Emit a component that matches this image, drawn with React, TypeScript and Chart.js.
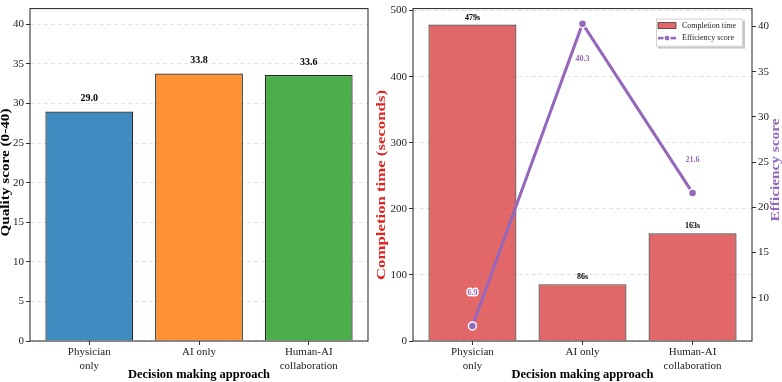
import React, { useEffect, useRef } from 'react';
import { Chart, registerables } from 'chart.js';

Chart.register(...registerables);

// ---------- data ----------
const categories: string[][] = [['Physician', 'only'], ['AI only'], ['Human-AI', 'collaboration']];
const qualityScores = [29.0, 33.8, 33.6];
const completionTimes = [479, 86, 163];
const efficiencyScores = [6.9, 40.3, 21.6];
const qualityTicks = [0, 5, 10, 15, 20, 25, 30, 35, 40];
const timeTicks = [0, 100, 200, 300, 400, 500];
const efficiencyTicks = [10, 15, 20, 25, 30, 35, 40];

const FONT = '"Liberation Serif", "Times New Roman", serif';
const PURPLE = '#9467bd';
const RED_TEXT = '#e3221f';
const qualityColors = ['rgba(31,119,180,0.85)', 'rgba(255,127,14,0.85)', 'rgba(44,160,44,0.85)'];
const timeColor = 'rgba(214,39,40,0.7)';

function drawVText(ctx: CanvasRenderingContext2D, text: string, x: number, y: number, length: number, size: number, color: string) {
  ctx.save();
  ctx.translate(x, y);
  ctx.rotate(-Math.PI / 2);
  ctx.font = `bold ${size}px ${FONT}`;
  const w = ctx.measureText(text).width;
  ctx.scale(length / w, 1);
  ctx.textAlign = 'center';
  ctx.textBaseline = 'middle';
  ctx.fillStyle = color;
  ctx.fillText(text, 0, 0);
  ctx.restore();
}

const framePlugin = {
  id: 'frame',
  afterDatasetsDraw(chart: any) {
    const { ctx, chartArea: ca } = chart;
    ctx.save();
    ctx.strokeStyle = '#222';
    ctx.lineWidth = 1;
    ctx.strokeRect(ca.left, ca.top, ca.right - ca.left, ca.bottom - ca.top);
    ctx.restore();
  },
};

function xScale(): any {
  return {
    type: 'linear',
    min: -0.54,
    max: 2.54,
    offset: false,
    afterBuildTicks: (s: any) => {
      s.ticks = categories.map((_, i) => ({ value: i }));
    },
    afterFit: (s: any) => {
      s.height = 41;
    },
    ticks: {
      callback: (v: any) => categories[Math.round(v)],
      font: { family: FONT, size: 11, lineHeight: 1.2 },
      color: '#222',
      padding: 1,
      maxRotation: 0,
      autoSkip: false,
    },
    grid: { offset: false, drawOnChartArea: false, tickLength: 4, tickColor: '#333', tickWidth: 1 },
    border: { display: false },
    title: {
      display: true,
      text: 'Decision making approach',
      font: { family: FONT, size: 12.5, weight: 'bold', lineHeight: 1.2 },
      color: '#000',
      padding: { top: 0, bottom: 0 },
    },
  };
}

function yGrid(drawArea: boolean) {
  return {
    drawOnChartArea: drawArea,
    color: 'rgba(0,0,0,0.14)',
    lineWidth: 0.8,
    tickLength: 4,
    tickColor: '#333',
    tickWidth: 1,
  };
}

function LeftChart() {
  const ref = useRef<HTMLCanvasElement>(null);
  useEffect(() => {
    const labelPlugin = {
      id: 'qlabels',
      afterDatasetsDraw(chart: any) {
        const { ctx } = chart;
        const meta = chart.getDatasetMeta(0);
        ctx.save();
        ctx.font = `bold 10px ${FONT}`;
        ctx.fillStyle = '#000';
        ctx.textAlign = 'center';
        ctx.textBaseline = 'middle';
        meta.data.forEach((el: any, i: number) => {
          ctx.fillText(qualityScores[i].toFixed(1), el.x, el.y - 13);
        });
        ctx.restore();
        drawVText(ctx, 'Quality score (0-40)', 6, 172.5, 128, 13, '#000');
      },
    };
    const chart = new Chart(ref.current!, {
      type: 'bar',
      data: {
        datasets: [
          {
            data: qualityScores.map((v, i) => ({ x: i, y: v })),
            backgroundColor: qualityColors,
            borderColor: 'rgba(0,0,0,0.85)',
            borderWidth: 1.2,
            barPercentage: 0.8,
            categoryPercentage: 1,
          } as any,
        ],
      },
      options: {
        animation: false,
        responsive: false,
        maintainAspectRatio: false,
        layout: { padding: { top: 2, right: 8, left: 0, bottom: 0 } },
        plugins: { legend: { display: false }, tooltip: { enabled: false } },
        scales: {
          x: xScale(),
          y: {
            min: 0,
            max: 42,
            afterBuildTicks: (s: any) => {
              s.ticks = qualityTicks.map((v) => ({ value: v }));
            },
            afterFit: (s: any) => {
              s.width = 30;
            },
            ticks: { font: { family: FONT, size: 11 }, color: '#222', padding: 2 },
            grid: yGrid(true),
            border: { display: false, dash: [4, 3] },
          },
        } as any,
      },
      plugins: [framePlugin, labelPlugin],
    });
    return () => chart.destroy();
  }, []);
  return (
    <canvas
      ref={ref}
      width={376}
      height={382}
      style={{ position: 'absolute', left: 0, top: 0, width: 376, height: 382, display: 'block' }}
    />
  );
}

function RightChart() {
  const ref = useRef<HTMLCanvasElement>(null);
  useEffect(() => {
    const labelPlugin = {
      id: 'tlabels',
      afterDatasetsDraw(chart: any) {
        const { ctx, chartArea: ca } = chart;
        const lineMeta = chart.getDatasetMeta(0);
        const barMeta = chart.getDatasetMeta(1);
        ctx.save();
        ctx.textAlign = 'center';
        ctx.textBaseline = 'middle';
        ctx.font = `bold 8px ${FONT}`;
        ctx.fillStyle = '#000';
        barMeta.data.forEach((el: any, i: number) => {
          ctx.fillText(`${completionTimes[i]}s`, el.x, el.y - 7);
        });
        lineMeta.data.forEach((el: any, i: number) => {
          const dy = i === 1 ? 35 : -33;
          const t = efficiencyScores[i].toFixed(1);
          ctx.lineWidth = 3;
          ctx.lineJoin = 'round';
          ctx.strokeStyle = '#fff';
          ctx.strokeText(t, el.x, el.y + dy);
          ctx.fillStyle = PURPLE;
          ctx.fillText(t, el.x, el.y + dy);
        });
        ctx.restore();

        // axis titles
        drawVText(ctx, 'Completion time (seconds)', 6, 185, 190, 13, RED_TEXT);
        drawVText(ctx, 'Efficiency score', 400, 170, 103, 13, PURPLE);

        // legend
        const bx = ca.right - 96;
        const by = ca.top + 10;
        const bw = 87;
        const bh = 28;
        ctx.save();
        ctx.fillStyle = 'rgba(0,0,0,0.22)';
        ctx.fillRect(bx + 2, by + 2, bw, bh);
        ctx.fillStyle = '#fff';
        ctx.fillRect(bx, by, bw, bh);
        ctx.strokeStyle = '#c8c8c8';
        ctx.lineWidth = 0.8;
        ctx.strokeRect(bx + 0.5, by + 0.5, bw - 1, bh - 1);
        // row 1
        ctx.fillStyle = timeColor;
        ctx.fillRect(bx + 2, by + 4, 18, 6);
        ctx.strokeStyle = 'rgba(0,0,0,0.7)';
        ctx.lineWidth = 0.8;
        ctx.strokeRect(bx + 2, by + 4, 18, 6);
        ctx.font = `8px ${FONT}`;
        ctx.fillStyle = '#222';
        ctx.textAlign = 'left';
        ctx.textBaseline = 'middle';
        ctx.fillText('Completion time', bx + 26, by + 7.5);
        // row 2
        ctx.strokeStyle = PURPLE;
        ctx.lineWidth = 2.5;
        ctx.beginPath();
        ctx.moveTo(bx + 2, by + 19.5);
        ctx.lineTo(bx + 20, by + 19.5);
        ctx.stroke();
        ctx.beginPath();
        ctx.arc(bx + 11, by + 19.5, 3, 0, Math.PI * 2);
        ctx.fillStyle = PURPLE;
        ctx.fill();
        ctx.strokeStyle = '#fff';
        ctx.lineWidth = 1.2;
        ctx.stroke();
        ctx.fillStyle = '#222';
        ctx.fillText('Efficiency score', bx + 26, by + 19.5);
        ctx.restore();
      },
    };
    const chart = new Chart(ref.current!, {
      type: 'bar',
      data: {
        datasets: [
          {
            type: 'line',
            data: efficiencyScores.map((v, i) => ({ x: i, y: v })),
            yAxisID: 'y1',
            borderColor: PURPLE,
            borderWidth: 3,
            pointRadius: 4,
            pointBackgroundColor: PURPLE,
            pointBorderColor: '#fff',
            pointBorderWidth: 1.5,
            order: 0,
          } as any,
          {
            type: 'bar',
            data: completionTimes.map((v, i) => ({ x: i, y: v })),
            yAxisID: 'y',
            backgroundColor: timeColor,
            borderColor: 'rgba(0,0,0,0.7)',
            borderWidth: 1.2,
            barPercentage: 0.8,
            categoryPercentage: 1,
            order: 1,
          } as any,
        ],
      },
      options: {
        animation: false,
        responsive: false,
        maintainAspectRatio: false,
        layout: { padding: { top: 2, right: 0, left: 0, bottom: 0 } },
        plugins: { legend: { display: false }, tooltip: { enabled: false } },
        scales: {
          x: xScale(),
          y: {
            position: 'left',
            min: 0,
            max: 503,
            afterBuildTicks: (s: any) => {
              s.ticks = timeTicks.map((v) => ({ value: v }));
            },
            afterFit: (s: any) => {
              s.width = 37;
            },
            ticks: { font: { family: FONT, size: 11 }, color: '#222', padding: 2 },
            grid: yGrid(true),
            border: { display: false, dash: [4, 3] },
          },
          y1: {
            position: 'right',
            min: 5.23,
            max: 41.97,
            afterBuildTicks: (s: any) => {
              s.ticks = efficiencyTicks.map((v) => ({ value: v }));
            },
            afterFit: (s: any) => {
              s.width = 30;
            },
            ticks: { font: { family: FONT, size: 11 }, color: '#222', padding: 2 },
            grid: yGrid(false),
            border: { display: false },
          },
        } as any,
      },
      plugins: [framePlugin, labelPlugin],
    });
    return () => chart.destroy();
  }, []);
  return (
    <canvas
      ref={ref}
      width={406}
      height={382}
      style={{ position: 'absolute', left: 376, top: 0, width: 406, height: 382, display: 'block' }}
    />
  );
}

export default function App() {
  return (
    <div style={{ position: 'absolute', left: 0, top: 0, width: 782, height: 382, background: '#fff', overflow: 'hidden' }}>
      <LeftChart />
      <RightChart />
    </div>
  );
}
